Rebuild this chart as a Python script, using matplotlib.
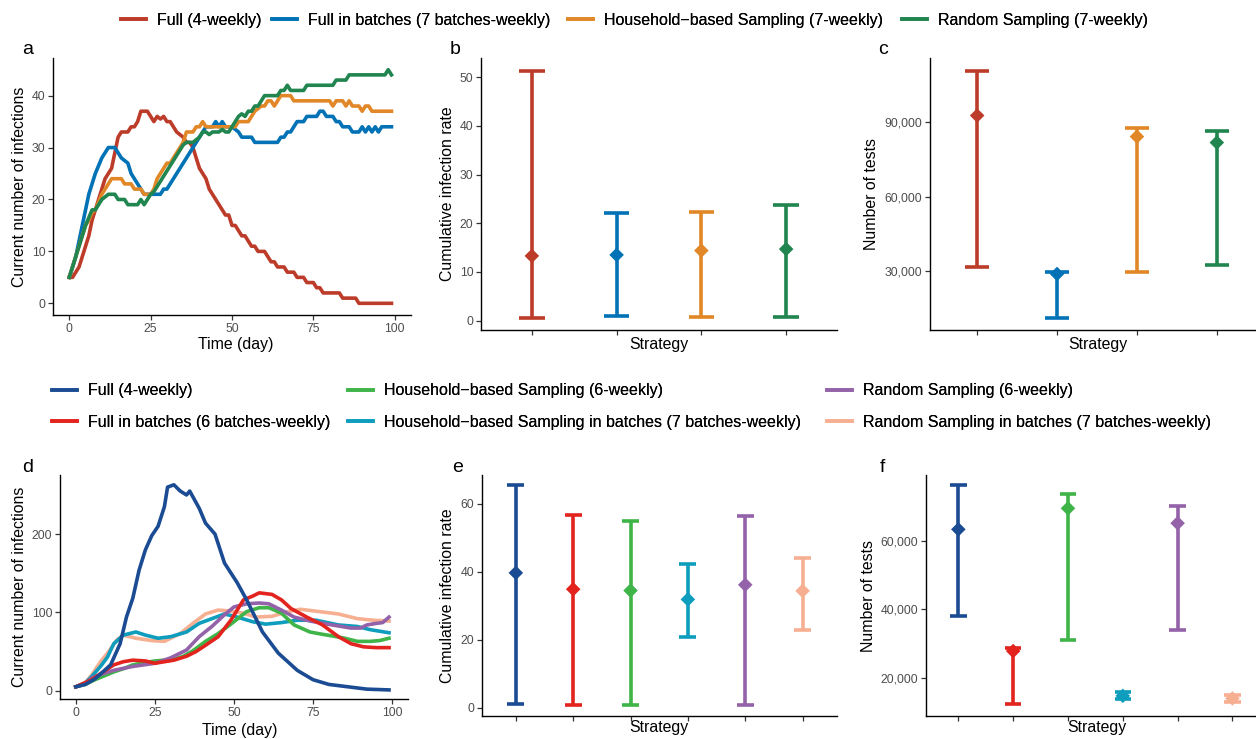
import matplotlib
matplotlib.use('Agg')
import matplotlib.pyplot as plt
from matplotlib.lines import Line2D
from matplotlib.ticker import FuncFormatter
import numpy as np

plt.rcParams['font.family'] = ['Liberation Sans', 'DejaVu Sans']

W, H = 1256, 739


def fx(px):
    return px / W


def fy(py):
    return 1 - py / H


# ---------------- top row data (a, b, c) ----------------
top_labels = ['Full (4-weekly)', 'Full in batches (7 batches-weekly)',
              'Household\u2212based Sampling (7-weekly)', 'Random Sampling (7-weekly)']
top_colors = ['#BC3C29', '#0072B5', '#E18727', '#20854E']

# panel a: current infections per day
a_full_days = [0, 1, 2, 3, 4, 5, 6, 7, 8, 9, 10, 11, 12, 13, 14, 15, 16, 18, 19, 20, 21, 22, 24, 25,
               26, 27, 28, 29, 30, 31, 32, 33, 35, 36, 37, 38, 39, 40, 41, 42, 43, 44, 45, 46, 47,
               48, 49, 50, 51, 52, 53, 54, 55, 56, 57, 58, 60, 61, 62, 63, 64, 66, 67, 69, 70, 72,
               73, 75, 76, 77, 78, 83, 84, 88, 89, 99]
a_full_vals = [5, 5, 6, 7, 9, 11, 13, 16, 18, 20, 22, 24, 25, 26, 29, 32, 33, 33, 34, 34, 35, 37, 37, 36,
               35, 36, 35.5, 36, 35, 35, 34, 33, 32, 31, 31, 30, 28, 26, 25, 24, 22, 21, 20, 19, 18,
               17, 17, 15, 15, 14, 13, 13, 12, 11, 11, 10, 10, 9, 8, 8, 7, 7, 6, 6, 5, 5,
               4, 4, 3, 3, 2, 2, 1, 1, 0, 0]

a_batch_days = [0, 1, 2, 3, 4, 5, 6, 7, 8, 9, 10, 11, 12, 14, 15, 16, 17, 18, 19, 20, 21, 22, 23, 28,
                29, 30, 31, 32, 33, 34, 35, 36, 37, 38, 39, 40, 41, 42, 44, 45, 46, 47, 48, 50, 52,
                53, 56, 57, 64, 65, 66, 67, 68, 69, 70, 72, 73, 76, 77, 78, 79, 81, 82, 83, 84, 86,
                87, 89, 90, 91, 92, 93, 94, 95, 96, 99]
a_batch_vals = [5, 7, 9, 12, 15, 18, 21, 23, 25, 26.5, 28, 29, 30, 30, 29, 28, 27.5, 27, 25, 24, 23, 22, 21, 21,
                22, 22, 23, 24, 25, 26, 27, 28, 29, 30, 31, 32, 33, 34, 34, 35, 34, 35, 34, 34, 33,
                32, 32, 31, 31, 32, 32, 33, 33, 34, 35, 35, 36, 36, 37, 37, 36, 36, 35, 35, 34, 34,
                33, 33, 34, 33, 34, 33, 34, 33, 34, 34]

a_house_days = [0, 1, 2, 3, 4, 5, 6, 7, 8, 9, 10, 11, 12, 13, 16, 17, 19, 20, 22, 23, 25, 26, 27, 28,
                29, 30, 31, 32, 33, 34, 35, 36, 38, 39, 40, 41, 42, 50, 51, 52, 55, 56, 57, 58, 59,
                60, 61, 62, 63, 64, 65, 68, 69, 80, 81, 82, 84, 85, 86, 87, 89, 90, 91, 92, 93, 99]
a_house_vals = [5, 7, 9, 11, 13, 15, 16, 17.5, 18, 19.5, 21, 22, 23, 24, 24, 23, 23, 22, 22, 21, 21, 22, 24, 25,
                26, 27, 27, 28, 29, 30, 31, 33, 33, 34, 34, 35, 34, 34, 34, 35, 35, 36, 37, 37.5, 38,
                38, 39, 39, 38, 39, 40, 40, 39, 39, 38, 39, 39, 38, 39, 38, 38, 37, 38, 38, 37, 37]

a_rand_days = [0, 1, 2, 3, 4, 5, 6, 7, 8, 9, 10, 11, 12, 14, 15, 17, 18, 21, 22, 23, 24, 25, 26, 27,
               28, 29, 30, 31, 32, 33, 34, 35, 36, 38, 39, 40, 41, 42, 43, 44, 46, 47, 48, 49, 50,
               51, 52, 53, 54, 55, 56, 57, 58, 59, 60, 64, 65, 66, 67, 68, 72, 73, 81, 82, 85, 86,
               97, 98, 99]
a_rand_vals = [5, 7, 9, 11, 13, 15, 16.5, 18, 18, 19, 20, 20.5, 21, 21, 20, 20, 19, 19, 20, 19, 20, 21, 21.5, 22.5,
               23.5, 24.5, 25.5, 26.5, 27.5, 28.5, 29.5, 30.5, 31, 31, 31.5, 32, 33, 33, 32.5, 33, 33, 33.5, 33, 33, 34,
               35, 36, 36.5, 36, 37, 37, 38, 38, 39, 40, 40, 41, 41, 42, 41, 41, 42, 42, 43, 43, 44,
               44, 45, 44]

# panel b: cumulative infection rate (lower, upper, point)
b_low = [0.6, 1.0, 0.8, 0.8]
b_high = [51.3, 22.2, 22.4, 23.7]
b_mid = [13.3, 13.5, 14.4, 14.7]

# panel c: number of tests
c_low = [31600, 11160, 29600, 32560]
c_high = [110850, 29460, 87850, 86640]
c_mid = [92700, 28800, 84200, 81800]

# ---------------- bottom row data (d, e, f) ----------------
bot_labels = ['Full (4-weekly)', 'Full in batches (6 batches-weekly)',
              'Household\u2212based Sampling (6-weekly)',
              'Household\u2212based Sampling in batches (7 batches-weekly)',
              'Random Sampling (6-weekly)', 'Random Sampling in batches (7 batches-weekly)']
bot_colors = ['#1B4C93', '#E3241E', '#3FB448', '#0E9DBD', '#9362A8', '#F7AF92']

d_full_days = [0, 3, 6, 8, 11, 14, 16, 18, 20, 22, 24, 26, 28, 29, 31, 33, 35, 36, 39, 41, 44, 47,
               51, 54, 59, 64, 70, 75, 80, 86, 92, 99]
d_full_vals = [5, 8, 15, 22, 33, 60, 94, 118, 154, 180, 198, 210, 235, 260, 263, 255, 250, 255, 233, 214, 200, 163,
               138, 116, 75, 48, 26, 14, 8, 5, 2, 1]
d_batch_days = [0, 5, 9, 12, 15, 18, 22, 25, 28, 31, 35, 38, 41, 45, 49, 53, 56, 58, 60, 62, 65, 68,
                73, 78, 83, 87, 91, 95, 99]
d_batch_vals = [5, 14, 25, 33, 37, 39, 38, 35, 37, 39, 44, 50, 58, 69, 90, 116, 121, 125, 124, 123, 116, 105,
                94, 84, 69, 60, 56, 55, 55]
d_house_days = [0, 3, 6, 9, 12, 15, 18, 22, 25, 28, 31, 34, 37, 41, 45, 49, 54, 58, 61, 65, 69, 74,
                78, 81, 85, 89, 93, 96, 99]
d_house_vals = [5, 8, 14, 19, 24, 28, 33, 36, 38, 39, 40, 44, 51, 63, 73, 85, 101, 106, 106, 99, 84, 75,
                72, 70, 67, 63, 63, 64, 67]
d_houseb_days = [0, 3, 5, 8, 10, 12, 15, 17, 19, 22, 26, 30, 35, 39, 43, 47, 51, 56, 60, 65, 70, 76,
                 83, 89, 93, 99]
d_houseb_vals = [5, 10, 18, 32, 43, 60, 71, 73, 75, 71, 67, 69, 75, 86, 92, 98, 94, 88, 85, 87, 90, 90,
                 84, 82, 78, 74]
d_rand_days = [0, 3, 5, 8, 12, 18, 25, 30, 35, 39, 43, 47, 50, 54, 58, 61, 65, 69, 74, 81, 87, 90,
               92, 95, 97, 99]
d_rand_vals = [5, 9, 16, 21, 26, 31, 35, 42, 52, 69, 82, 97, 107, 111, 112, 111, 103, 94, 89, 84, 80, 80,
               84, 86, 87, 94]
d_randb_days = [0, 3, 5, 8, 10, 13, 15, 19, 24, 28, 33, 37, 41, 45, 48, 53, 57, 62, 67, 71, 77, 83,
                89, 94, 99]
d_randb_vals = [5, 10, 20, 38, 48, 65, 71, 67, 64, 63, 73, 86, 98, 103, 102, 99, 94, 95, 101, 104, 101, 98,
                92, 90, 89]

e_low = [1.0, 0.8, 0.8, 20.7, 0.8, 22.8]
e_high = [65.5, 56.7, 55.0, 42.3, 56.3, 44.2]
e_mid = [39.7, 34.9, 34.5, 31.9, 36.2, 34.4]

f_low = [38150, 12200, 31000, 13850, 33950, 12950]
f_high = [76300, 28800, 73650, 15700, 70350, 14900]
f_mid = [63400, 27800, 69550, 14700, 65200, 13950]

TICK_FS = 8.8
TITLE_FS = 11.4
LEG_FS = 11.5
LW = 2.6

fig = plt.figure(figsize=(W / 100, H / 100), dpi=100)


def add_ax(left, top, right, bottom):
    return fig.add_axes([fx(left), fy(bottom), (right - left) / W, (bottom - top) / H])


def style(ax):
    for s in ['top', 'right']:
        ax.spines[s].set_visible(False)
    for s in ['left', 'bottom']:
        ax.spines[s].set_linewidth(1.0)
        ax.spines[s].set_color('black')
    ax.tick_params(direction='out', length=3.5, width=0.9, color='#333333',
                   labelcolor='#4D4D4D', labelsize=TICK_FS, pad=2)


def draw_ci(ax, lows, highs, mids, colors):
    x = np.arange(1, len(mids) + 1)
    ax.vlines(x, lows, highs, colors=colors, lw=LW, zorder=2)
    ax.hlines(lows, x - 0.15, x + 0.15, colors=colors, lw=LW, zorder=2)
    ax.hlines(highs, x - 0.15, x + 0.15, colors=colors, lw=LW, zorder=2)
    ax.scatter(x, mids, marker='D', s=55, c=colors, zorder=3, linewidths=0)
    ax.set_xticks(x)
    ax.set_xticklabels([''] * len(x))


thousands = FuncFormatter(lambda v, p: '{:,.0f}'.format(v))

# ---- panel a
ax_a = add_ax(53, 58, 411, 315)
style(ax_a)
for d, v, c in zip([a_full_days, a_batch_days, a_house_days, a_rand_days],
                   [a_full_vals, a_batch_vals, a_house_vals, a_rand_vals], top_colors):
    ax_a.plot(d, v, color=c, lw=LW, solid_joinstyle='round')
ax_a.set_xlim(-5, 105)
ax_a.set_ylim(-2.25, 47.25)
ax_a.set_xticks([0, 25, 50, 75, 100])
ax_a.set_yticks([0, 10, 20, 30, 40])
ax_a.set_xlabel('Time (day)', fontsize=TITLE_FS)
ax_a.set_ylabel('Current number of infections', fontsize=TITLE_FS)

# ---- panel b
ax_b = add_ax(481, 58, 837, 330)
style(ax_b)
draw_ci(ax_b, b_low, b_high, b_mid, top_colors)
ax_b.set_xlim(0.4, 4.6)
ax_b.set_ylim(-1.9, 53.9)
ax_b.set_yticks([0, 10, 20, 30, 40, 50])
ax_b.set_xlabel('Strategy', fontsize=TITLE_FS)
ax_b.set_ylabel('Cumulative infection rate', fontsize=TITLE_FS)

# ---- panel c
ax_c = add_ax(930, 58, 1256, 330)
style(ax_c)
draw_ci(ax_c, c_low, c_high, c_mid, top_colors)
ax_c.set_xlim(0.41, 4.49)
ax_c.set_ylim(6200, 115900)
ax_c.set_yticks([30000, 60000, 90000])
ax_c.yaxis.set_major_formatter(thousands)
ax_c.set_xlabel('Strategy', fontsize=TITLE_FS)
ax_c.set_ylabel('Number of tests', fontsize=TITLE_FS)

# ---- panel d
ax_d = add_ax(60, 475, 408, 699)
style(ax_d)
d_days = [d_full_days, d_batch_days, d_house_days, d_houseb_days, d_rand_days, d_randb_days]
d_vals = [d_full_vals, d_batch_vals, d_house_vals, d_houseb_vals, d_rand_vals, d_randb_vals]
for i in [5, 3, 2, 4, 1, 0]:
    ax_d.plot(d_days[i], d_vals[i], color=bot_colors[i], lw=LW, solid_joinstyle='round')
ax_d.set_xlim(-5, 105)
ax_d.set_ylim(-10.6, 275.5)
ax_d.set_xticks([0, 25, 50, 75, 100])
ax_d.set_yticks([0, 100, 200])
ax_d.set_xlabel('Time (day)', fontsize=TITLE_FS)
ax_d.set_ylabel('Current number of infections', fontsize=TITLE_FS)

# ---- panel e
ax_e = add_ax(482, 475, 837, 716)
style(ax_e)
draw_ci(ax_e, e_low, e_high, e_mid, bot_colors)
ax_e.set_xlim(0.41, 6.6)
ax_e.set_ylim(-2.4, 68.5)
ax_e.set_yticks([0, 20, 40, 60])
ax_e.set_xlabel('Strategy', fontsize=TITLE_FS)
ax_e.set_ylabel('Cumulative infection rate', fontsize=TITLE_FS)

# ---- panel f
ax_f = add_ax(926, 475, 1256, 716)
style(ax_f)
draw_ci(ax_f, f_low, f_high, f_mid, bot_colors)
ax_f.set_xlim(0.41, 6.43)
ax_f.set_ylim(8800, 79300)
ax_f.set_yticks([20000, 40000, 60000])
ax_f.yaxis.set_major_formatter(thousands)
ax_f.set_xlabel('Strategy', fontsize=TITLE_FS)
ax_f.set_ylabel('Number of tests', fontsize=TITLE_FS)

# axis title placement (figure pixels)
ylab_x = {ax_a: 27, ax_b: 455, ax_c: 879, ax_d: 27, ax_e: 455, ax_f: 876}
xlab = {ax_a: (236, 337), ax_b: (659, 337), ax_c: (1098, 337),
        ax_d: (240, 723), ax_e: (659, 720), ax_f: (1097, 720)}
for ax in ylab_x:
    bb = ax.get_position()
    yc = (bb.y0 + bb.y1) / 2
    ax.yaxis.set_label_coords(fx(ylab_x[ax]), yc, transform=fig.transFigure)
    ax.xaxis.set_label_coords(fx(xlab[ax][0]), fy(xlab[ax][1]), transform=fig.transFigure)

# panel letters
for s, px, py in [('a', 28, 50), ('b', 455, 50), ('c', 883, 50),
                  ('d', 28, 467), ('e', 458, 467), ('f', 882, 467)]:
    fig.text(fx(px), fy(py), s, fontsize=14, ha='center', va='center')

# legends: one entry each, placed at the handle start
leg_kw = dict(frameon=False, fontsize=LEG_FS, handlelength=1.57, handletextpad=0.69,
              borderpad=0, borderaxespad=0, loc='center left')
for lab, col, px in zip(top_labels, top_colors, [121, 272, 568, 902]):
    h = Line2D([], [], color=col, lw=LW)
    fig.add_artist(fig.legend([h], [lab], bbox_to_anchor=(fx(px), fy(20)), **leg_kw))

for i, (lab, col) in enumerate(zip(bot_labels, bot_colors)):
    px = [52, 348, 827][i // 2]
    py = [391, 422][i % 2]
    h = Line2D([], [], color=col, lw=LW)
    fig.add_artist(fig.legend([h], [lab], bbox_to_anchor=(fx(px), fy(py)), **leg_kw))

fig.savefig('out.png', dpi=100)
